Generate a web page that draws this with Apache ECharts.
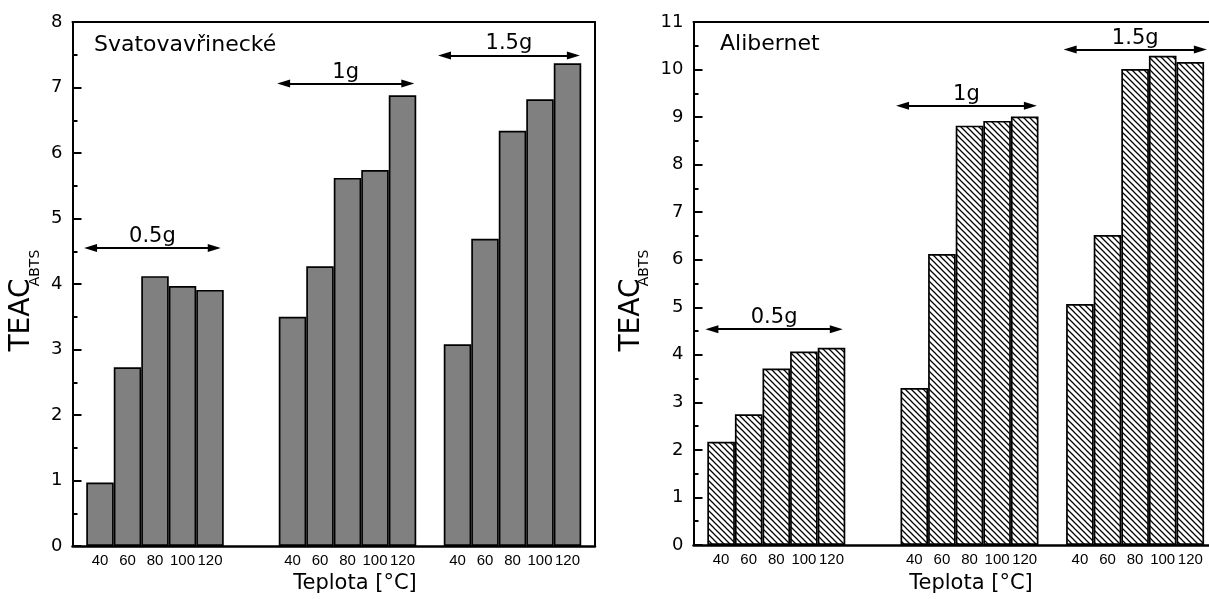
<!DOCTYPE html>
<html>
<head>
<meta charset="utf-8">
<script src="https://cdn.jsdelivr.net/npm/echarts@6/dist/echarts.min.js"></script>
<style>
  html, body { margin: 0; padding: 0; background: #fff; }
  #chart { width: 1209px; height: 599px; }
</style>
</head>
<body>
<div id="chart"></div>
<script>
// temperatures under each bar, doses per group
const temps = ['40', '60', '80', '100', '120'];
const doses = ['0.5g', '1g', '1.5g'];

// TEAC ABTS values, Svatovavřinecké
const svato05 = [0.97, 2.73, 4.12, 3.97, 3.91];
const svato1 = [3.50, 4.27, 5.62, 5.74, 6.88];
const svato15 = [3.08, 4.69, 6.34, 6.82, 7.37];

// TEAC ABTS values, Alibernet
const alib05 = [2.17, 2.75, 3.71, 4.07, 4.15];
const alib1 = [3.30, 6.12, 8.82, 8.92, 9.01];
const alib15 = [5.07, 6.52, 10.01, 10.29, 10.16];

// arrow heights above each dose group
const svatoArrowY = [4.55, 7.06, 7.49];
const alibArrowY = [4.54, 9.24, 10.42];

const FONT = '"DejaVu Sans", sans-serif';
const TICK_FONT = '"Liberation Sans", Arial, sans-serif';
const GROUP_START = [1, 8, 14];   // slot of first bar in each group
const LEFT_SLOT = 27.5, RIGHT_SLOT = 27.6;
const LEFT_MAX = 19;
const RIGHT_MAX = (1209 - 693.5) / RIGHT_SLOT;  // plot runs off the right edge
const HEAD = 13;  // arrow head length, px

function toPoints(groups) {
    const pts = [];
    groups.forEach((vals, g) => {
        vals.forEach((v, i) => pts.push([GROUP_START[g] + i, v]));
    });
    return pts;
}

// spans are tip to tip, symbols sit centred on the ends so pull them in
function arrows(ys, spans, slot) {
    const inset = HEAD / 2 / slot;
    return ys.map((y, g) => [
        { coord: [spans[g][0] + inset, y], name: doses[g] },
        { coord: [spans[g][1] - inset, y] }
    ]);
}

// diagonal hatch like "\\\\"
function hatchPattern() {
    const c = document.createElement('canvas');
    c.width = 6; c.height = 6;
    const ctx = c.getContext('2d');
    ctx.fillStyle = '#fff';
    ctx.fillRect(0, 0, 6, 6);
    ctx.strokeStyle = '#000';
    ctx.lineWidth = 1.25;
    ctx.beginPath();
    ctx.moveTo(-1, -1); ctx.lineTo(7, 7);
    ctx.moveTo(-1, 5); ctx.lineTo(1, 7);
    ctx.moveTo(5, -1); ctx.lineTo(7, 1);
    ctx.stroke();
    return c;
}

const blackLine = { color: '#000', width: 2 };

function xAxisFor(grid, max) {
    return {
        type: 'value', gridIndex: grid, min: 0, max: max,
        axisLine: { show: true, onZero: false, lineStyle: { color: '#000', width: 2.5 } },
        axisTick: { show: false },
        axisLabel: { show: false },
        splitLine: { show: false }
    };
}

// bare line used for the frame
function frameAxis(grid, max, position) {
    return {
        type: 'value', gridIndex: grid, min: 0, max: max, position: position,
        axisLine: { show: true, onZero: false, lineStyle: blackLine },
        axisTick: { show: false },
        axisLabel: { show: false },
        splitLine: { show: false }
    };
}

function yAxisFor(grid, max) {
    return {
        type: 'value', gridIndex: grid, min: 0, max: max, interval: 1,
        axisLine: { show: true, onZero: false, lineStyle: blackLine },
        axisTick: { show: true, inside: true, length: 9, lineStyle: blackLine },
        minorTick: { show: true, splitNumber: 2, length: 5, lineStyle: blackLine },
        axisLabel: { fontSize: 18, color: '#000', fontFamily: FONT, margin: 10 },
        splitLine: { show: false },
        minorSplitLine: { show: false }
    };
}

function markLineFor(ys, spans, slot) {
    return {
        silent: true,
        symbol: ['triangle', 'triangle'],
        symbolSize: [8, HEAD],
        lineStyle: { color: '#000', width: 1.8, type: 'solid' },
        label: {
            show: true, position: 'middle', formatter: '{b}', distance: 1,
            fontSize: 21, color: '#000', fontFamily: FONT
        },
        emphasis: { disabled: true },
        data: arrows(ys, spans, slot)
    };
}

const barLabel = {
    show: true, position: 'bottom', distance: 7,
    formatter: p => temps[p.dataIndex % temps.length],
    fontSize: 15, color: '#000', fontFamily: TICK_FONT
};

const chart = echarts.init(document.getElementById('chart'));

chart.setOption({
    animation: false,
    backgroundColor: '#fff',
    textStyle: { fontFamily: FONT },
    grid: [
        { left: 72.5, top: 22, width: LEFT_SLOT * LEFT_MAX, height: 524 },
        { left: 693.5, top: 22, right: 0, height: 523 }
    ],
    xAxis: [
        xAxisFor(0, LEFT_MAX), xAxisFor(1, RIGHT_MAX),
        frameAxis(0, LEFT_MAX, 'top'), frameAxis(1, RIGHT_MAX, 'top')
    ],
    yAxis: [yAxisFor(0, 8), yAxisFor(1, 11), frameAxis(0, 8, 'right')],
    series: [
        {
            type: 'bar', xAxisIndex: 0, yAxisIndex: 0,
            barWidth: LEFT_SLOT,
            data: toPoints([svato05, svato1, svato15]),
            itemStyle: { color: '#808080', borderColor: '#000', borderWidth: 1.7 },
            label: barLabel,
            emphasis: { disabled: true },
            markLine: markLineFor(svatoArrowY, [[0.42, 5.39], [7.44, 12.43], [13.29, 18.45]], LEFT_SLOT)
        },
        {
            type: 'bar', xAxisIndex: 1, yAxisIndex: 1,
            barWidth: RIGHT_SLOT,
            data: toPoints([alib05, alib1, alib15]),
            itemStyle: {
                color: { image: hatchPattern(), repeat: 'repeat' },
                borderColor: '#000', borderWidth: 1.7
            },
            label: barLabel,
            emphasis: { disabled: true },
            markLine: markLineFor(alibArrowY, [[0.43, 5.41], [7.34, 12.44], [13.41, 18.6]], RIGHT_SLOT)
        }
    ],
    graphic: [
        { type: 'text', x: 94, y: 45,
          style: { text: 'Svatovavřinecké', font: '22px ' + FONT, fill: '#000', align: 'left', verticalAlign: 'middle' } },
        { type: 'text', x: 720, y: 44,
          style: { text: 'Alibernet', font: '22px ' + FONT, fill: '#000', align: 'left', verticalAlign: 'middle' } },
        { type: 'text', x: 355, y: 584,
          style: { text: 'Teplota [°C]', font: '21px ' + FONT, fill: '#000', align: 'center', verticalAlign: 'middle' } },
        { type: 'text', x: 971, y: 584,
          style: { text: 'Teplota [°C]', font: '21px ' + FONT, fill: '#000', align: 'center', verticalAlign: 'middle' } },
        { type: 'text', x: 22, y: 315, rotation: Math.PI / 2,
          style: { text: 'TEAC', font: '28px ' + FONT, fill: '#000', align: 'center', verticalAlign: 'middle' } },
        { type: 'text', x: 35, y: 268, rotation: Math.PI / 2,
          style: { text: 'ABTS', font: '14px ' + FONT, fill: '#000', align: 'center', verticalAlign: 'middle' } },
        { type: 'text', x: 632, y: 315, rotation: Math.PI / 2,
          style: { text: 'TEAC', font: '28px ' + FONT, fill: '#000', align: 'center', verticalAlign: 'middle' } },
        { type: 'text', x: 644, y: 268, rotation: Math.PI / 2,
          style: { text: 'ABTS', font: '14px ' + FONT, fill: '#000', align: 'center', verticalAlign: 'middle' } }
    ]
});
</script>
</body>
</html>
